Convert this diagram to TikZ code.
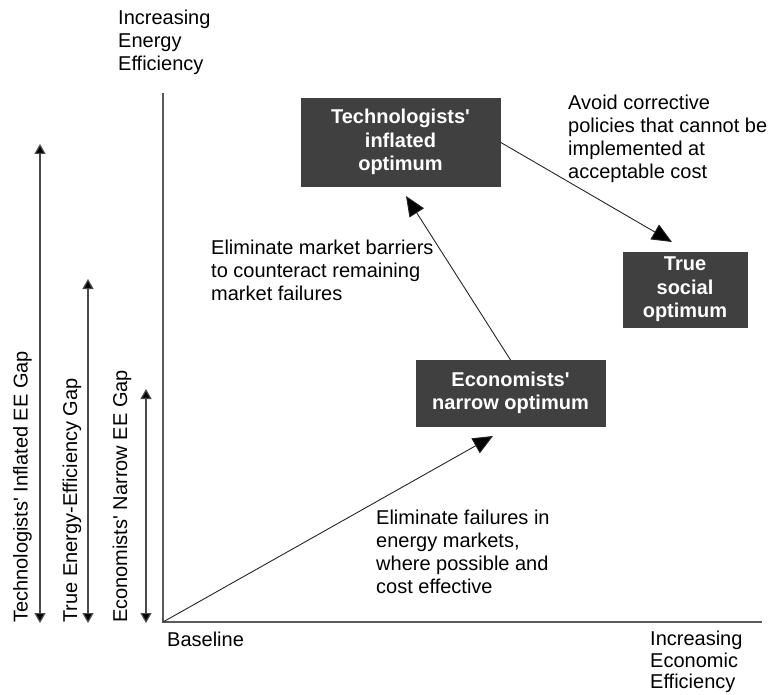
\documentclass[tikz,border=0pt]{standalone}
\usepackage{fontspec}
\setmainfont{Liberation Sans}[Ligatures=TeXOff]
\usetikzlibrary{arrows.meta}
\definecolor{boxgray}{HTML}{404040}
\definecolor{linegray}{HTML}{4A4A4A}
\begin{document}
\begin{tikzpicture}[x=1pt,y=-1pt,
  lbl/.style={anchor=north west, inner sep=0pt, align=left, font=\fontsize{20}{23}\selectfont},
  box/.style={draw=black!75, line width=0.8pt, fill=boxgray, text=white, align=center,
    font=\fontsize{20}{23.5}\selectfont\bfseries, inner sep=0pt, outer sep=0pt},
  gap/.style={draw=linegray, line width=1.2pt,
    {Triangle[length=10pt,width=11pt,fill=black]}-{Triangle[length=10pt,width=11pt,fill=black]}},
  flow/.style={draw=black!85, line width=0.9pt, -{Triangle[length=20pt,width=17pt,fill=black]}},
  axisline/.style={draw=black!65, line width=1.3pt},
  gaplbl/.style={anchor=base west, rotate=90, inner sep=0pt, font=\fontsize{20}{23}\selectfont}]
\useasboundingbox (0,0) rectangle (776,695);

% axes
\coordinate (O) at (163,622);
\coordinate (ytop) at (163,93);
\coordinate (xend) at (762,622);
\draw[axisline] (ytop) -- (O) -- (xend);

% boxes
\node[box, minimum width=199pt, minimum height=88pt] (tech) at (400.5,142) {Technologists'\\inflated\\optimum};
\node[box, minimum width=124pt, minimum height=75pt] (social) at (685,289.5) {True\\social\\optimum};
\node[box, minimum width=189pt, minimum height=66pt] (econ) at (510.5,393) {Economists'\\narrow optimum};

% arrow tips
\coordinate (t1) at (493,436);
\coordinate (t2) at (406,196);
\coordinate (t3) at (672,242);
\draw[flow] (O) -- (t1);
\draw[flow] (econ.north) -- (t2);
\draw[flow] (tech.east) -- (t3);

% gap arrows
\coordinate (g1t) at (40,144);
\coordinate (g1b) at (40,623);
\coordinate (g2t) at (88,279);
\coordinate (g2b) at (88,623);
\coordinate (g3t) at (146,389);
\coordinate (g3b) at (146,623);
\draw[gap] (g1b) -- (g1t);
\draw[gap] (g2b) -- (g2t);
\draw[gap] (g3b) -- (g3t);

\node[gaplbl] (l1) at (27.5,623) {Technologists' Inflated EE Gap};
\node[gaplbl] (l2) at (77,623) {True Energy-Efficiency Gap};
\node[gaplbl] (l3) at (127,623) {Economists' Narrow EE Gap};

% labels
\node[lbl] (yl) at (118,10) {Increasing\\Energy\\Efficiency};
\node[lbl, font=\fontsize{20}{21.5}\selectfont] (xl) at (650,631) {Increasing\\Economic\\Efficiency};
\node[lbl] (base) at (167,632) {Baseline};
\node[lbl] (avoid) at (568,95) {Avoid corrective\\policies that cannot be\\implemented at\\acceptable cost};
\node[lbl] (barr) at (211,240) {Eliminate market barriers\\to counteract remaining\\market failures};
\node[lbl] (fail) at (376,510) {Eliminate failures in\\energy markets,\\where possible and\\cost effective};
\end{tikzpicture}
\end{document}
